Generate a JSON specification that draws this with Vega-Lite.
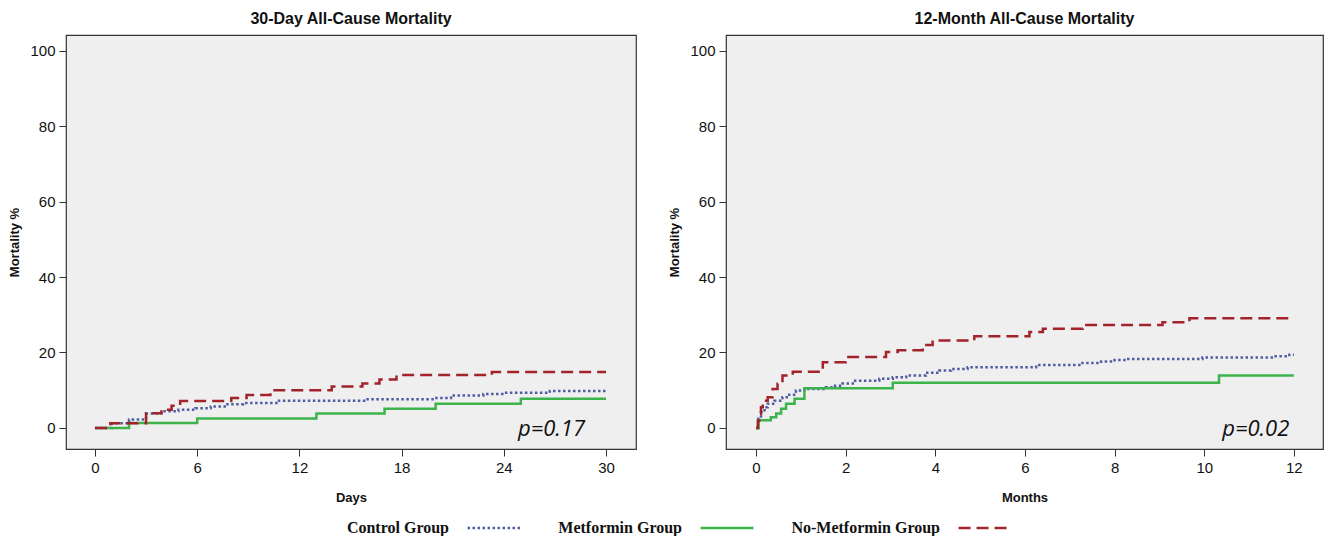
{
  "$schema": "https://vega.github.io/schema/vega-lite/v6.json",
  "background": "white",
  "padding": {"left": 8, "top": 10, "right": 3, "bottom": 0},
  "datasets": {
    "days": [
      {"group": "Control Group", "t": 0, "m": 0},
      {"group": "Control Group", "t": 1, "m": 1.2},
      {"group": "Control Group", "t": 2, "m": 2.2},
      {"group": "Control Group", "t": 3, "m": 3.8},
      {"group": "Control Group", "t": 3.9, "m": 4.4},
      {"group": "Control Group", "t": 4.9, "m": 4.8},
      {"group": "Control Group", "t": 5.9, "m": 5.2},
      {"group": "Control Group", "t": 6.8, "m": 5.7},
      {"group": "Control Group", "t": 7.7, "m": 6.3},
      {"group": "Control Group", "t": 8.7, "m": 6.6},
      {"group": "Control Group", "t": 10.8, "m": 7.2},
      {"group": "Control Group", "t": 16, "m": 7.6},
      {"group": "Control Group", "t": 19.9, "m": 7.9},
      {"group": "Control Group", "t": 20.9, "m": 8.6},
      {"group": "Control Group", "t": 22.8, "m": 9.0},
      {"group": "Control Group", "t": 24, "m": 9.3},
      {"group": "Control Group", "t": 26.7, "m": 9.8},
      {"group": "Control Group", "t": 30, "m": 9.8},
      {"group": "Metformin Group", "t": 0, "m": 0},
      {"group": "Metformin Group", "t": 2, "m": 1.3},
      {"group": "Metformin Group", "t": 6, "m": 2.5},
      {"group": "Metformin Group", "t": 13, "m": 3.8},
      {"group": "Metformin Group", "t": 17, "m": 5.1},
      {"group": "Metformin Group", "t": 20, "m": 6.4},
      {"group": "Metformin Group", "t": 25, "m": 7.7},
      {"group": "Metformin Group", "t": 30, "m": 7.7},
      {"group": "No-Metformin Group", "t": 0, "m": 0},
      {"group": "No-Metformin Group", "t": 0.9, "m": 1.2},
      {"group": "No-Metformin Group", "t": 3, "m": 3.9},
      {"group": "No-Metformin Group", "t": 3.9, "m": 4.8},
      {"group": "No-Metformin Group", "t": 4.5, "m": 5.9},
      {"group": "No-Metformin Group", "t": 5, "m": 7.1},
      {"group": "No-Metformin Group", "t": 8, "m": 7.9},
      {"group": "No-Metformin Group", "t": 8.9, "m": 8.7},
      {"group": "No-Metformin Group", "t": 10.3, "m": 10.0},
      {"group": "No-Metformin Group", "t": 13.9, "m": 11.0},
      {"group": "No-Metformin Group", "t": 15.7, "m": 11.8},
      {"group": "No-Metformin Group", "t": 16.7, "m": 12.8},
      {"group": "No-Metformin Group", "t": 17.7, "m": 14.0},
      {"group": "No-Metformin Group", "t": 23.3, "m": 14.8},
      {"group": "No-Metformin Group", "t": 30, "m": 14.8}
    ],
    "months": [
      {"group": "Control Group", "t": 0, "m": 0},
      {"group": "Control Group", "t": 0.05, "m": 2.4},
      {"group": "Control Group", "t": 0.11, "m": 4.2},
      {"group": "Control Group", "t": 0.19, "m": 5.5},
      {"group": "Control Group", "t": 0.26, "m": 6.4},
      {"group": "Control Group", "t": 0.41, "m": 7.2},
      {"group": "Control Group", "t": 0.59, "m": 8.1},
      {"group": "Control Group", "t": 0.74, "m": 8.8},
      {"group": "Control Group", "t": 0.89, "m": 9.9},
      {"group": "Control Group", "t": 1.08, "m": 10.3},
      {"group": "Control Group", "t": 1.56, "m": 10.8},
      {"group": "Control Group", "t": 1.71, "m": 11.2},
      {"group": "Control Group", "t": 1.93, "m": 11.8},
      {"group": "Control Group", "t": 2.16, "m": 12.5},
      {"group": "Control Group", "t": 2.75, "m": 13.0},
      {"group": "Control Group", "t": 3.05, "m": 13.4},
      {"group": "Control Group", "t": 3.35, "m": 13.9},
      {"group": "Control Group", "t": 3.79, "m": 14.6},
      {"group": "Control Group", "t": 4.09, "m": 15.2},
      {"group": "Control Group", "t": 4.35, "m": 15.6},
      {"group": "Control Group", "t": 4.72, "m": 16.1},
      {"group": "Control Group", "t": 6.25, "m": 16.7},
      {"group": "Control Group", "t": 7.25, "m": 17.2},
      {"group": "Control Group", "t": 7.7, "m": 17.6},
      {"group": "Control Group", "t": 8.0, "m": 18.0},
      {"group": "Control Group", "t": 8.25, "m": 18.3},
      {"group": "Control Group", "t": 9.96, "m": 18.7},
      {"group": "Control Group", "t": 11.56, "m": 19.0},
      {"group": "Control Group", "t": 11.9, "m": 19.4},
      {"group": "Control Group", "t": 12, "m": 19.4},
      {"group": "Metformin Group", "t": 0, "m": 0},
      {"group": "Metformin Group", "t": 0.06, "m": 2.0},
      {"group": "Metformin Group", "t": 0.33, "m": 2.8},
      {"group": "Metformin Group", "t": 0.45, "m": 3.8},
      {"group": "Metformin Group", "t": 0.56, "m": 5.1},
      {"group": "Metformin Group", "t": 0.67, "m": 6.4},
      {"group": "Metformin Group", "t": 0.86, "m": 7.7},
      {"group": "Metformin Group", "t": 1.08, "m": 10.5},
      {"group": "Metformin Group", "t": 3.05, "m": 12.0},
      {"group": "Metformin Group", "t": 10.33, "m": 13.9},
      {"group": "Metformin Group", "t": 12, "m": 13.9},
      {"group": "No-Metformin Group", "t": 0, "m": 0},
      {"group": "No-Metformin Group", "t": 0.04, "m": 1.9},
      {"group": "No-Metformin Group", "t": 0.07, "m": 3.7},
      {"group": "No-Metformin Group", "t": 0.11, "m": 5.5},
      {"group": "No-Metformin Group", "t": 0.15, "m": 7.2},
      {"group": "No-Metformin Group", "t": 0.26, "m": 8.1},
      {"group": "No-Metformin Group", "t": 0.37, "m": 10.3},
      {"group": "No-Metformin Group", "t": 0.48, "m": 11.7},
      {"group": "No-Metformin Group", "t": 0.59, "m": 13.9},
      {"group": "No-Metformin Group", "t": 0.82, "m": 14.9},
      {"group": "No-Metformin Group", "t": 1.49, "m": 17.4},
      {"group": "No-Metformin Group", "t": 2.0, "m": 18.8},
      {"group": "No-Metformin Group", "t": 2.9, "m": 20.1},
      {"group": "No-Metformin Group", "t": 3.16, "m": 20.6},
      {"group": "No-Metformin Group", "t": 3.72, "m": 22.0},
      {"group": "No-Metformin Group", "t": 3.94, "m": 23.2},
      {"group": "No-Metformin Group", "t": 4.87, "m": 24.3},
      {"group": "No-Metformin Group", "t": 6.1, "m": 25.4},
      {"group": "No-Metformin Group", "t": 6.4, "m": 26.3},
      {"group": "No-Metformin Group", "t": 7.29, "m": 27.3},
      {"group": "No-Metformin Group", "t": 9.07, "m": 28.0},
      {"group": "No-Metformin Group", "t": 9.67, "m": 29.1},
      {"group": "No-Metformin Group", "t": 12, "m": 29.1}
    ],
    "pdays": [{"t": 26.8, "m": -0.3, "label": "p=0.17"}],
    "pmonths": [{"t": 11.15, "m": -0.3, "label": "p=0.02"}]
  },
  "spacing": 31,
  "hconcat": [
    {
      "title": "30-Day All-Cause Mortality",
      "width": 570,
      "height": 414,
      "layer": [
        {
          "data": {"name": "days"},
          "mark": {"type": "line", "interpolate": "step-after", "strokeWidth": 2.5, "strokeCap": "butt"},
          "encoding": {
            "x": {"field": "t", "type": "quantitative", "scale": {"domain": [-1.7, 31.76], "nice": false, "zero": false}, "axis": {"values": [0, 6, 12, 18, 24, 30], "title": "Days"}},
            "y": {"field": "m", "type": "quantitative", "scale": {"domain": [-5.6, 104.2], "nice": false, "zero": false}, "axis": {"values": [0, 20, 40, 60, 80, 100], "title": "Mortality %"}},
            "color": {"field": "group", "type": "nominal", "scale": {"domain": ["Control Group", "Metformin Group", "No-Metformin Group"], "range": ["#4f5da3", "#3cb44b", "#a3232b"]}, "legend": {"title": null}},
            "strokeDash": {"field": "group", "type": "nominal", "scale": {"domain": ["Control Group", "Metformin Group", "No-Metformin Group"], "range": [[2.5, 2.5], [1, 0], [12, 6]]}, "legend": {"title": null}}
          }
        },
        {
          "data": {"name": "pdays"},
          "mark": {"type": "text", "font": "Open Sans", "fontStyle": "italic", "fontSize": 22, "color": "#111"},
          "encoding": {
            "x": {"field": "t", "type": "quantitative"},
            "y": {"field": "m", "type": "quantitative"},
            "text": {"field": "label"}
          }
        }
      ]
    },
    {
      "title": "12-Month All-Cause Mortality",
      "width": 597,
      "height": 414,
      "layer": [
        {
          "data": {"name": "months"},
          "mark": {"type": "line", "interpolate": "step-after", "strokeWidth": 2.5, "strokeCap": "butt"},
          "encoding": {
            "x": {"field": "t", "type": "quantitative", "scale": {"domain": [-0.67, 12.65], "nice": false, "zero": false}, "axis": {"values": [0, 2, 4, 6, 8, 10, 12], "title": "Months"}},
            "y": {"field": "m", "type": "quantitative", "scale": {"domain": [-5.6, 104.2], "nice": false, "zero": false}, "axis": {"values": [0, 20, 40, 60, 80, 100], "title": "Mortality %"}},
            "color": {"field": "group", "type": "nominal", "scale": {"domain": ["Control Group", "Metformin Group", "No-Metformin Group"], "range": ["#4f5da3", "#3cb44b", "#a3232b"]}, "legend": {"title": null}},
            "strokeDash": {"field": "group", "type": "nominal", "scale": {"domain": ["Control Group", "Metformin Group", "No-Metformin Group"], "range": [[2.5, 2.5], [1, 0], [12, 6]]}, "legend": {"title": null}}
          }
        },
        {
          "data": {"name": "pmonths"},
          "mark": {"type": "text", "font": "Open Sans", "fontStyle": "italic", "fontSize": 22, "color": "#111"},
          "encoding": {
            "x": {"field": "t", "type": "quantitative"},
            "y": {"field": "m", "type": "quantitative"},
            "text": {"field": "label"}
          }
        }
      ]
    }
  ],
  "resolve": {"scale": {"color": "shared", "strokeDash": "shared"}},
  "config": {
    "view": {"fill": "#efefef", "stroke": "#333333", "strokeWidth": 1.2},
    "axis": {
      "labelFont": "Liberation Sans", "labelFontSize": 15, "labelColor": "#111111",
      "titleFont": "Liberation Sans", "titleFontSize": 13, "titleFontWeight": "bold", "titleColor": "#111111",
      "tickColor": "#333333", "tickSize": 7, "domain": false, "grid": false, "labelPadding": 4
    },
    "axisX": {"titlePadding": 16},
    "axisY": {"titlePadding": 8},
    "title": {"font": "Liberation Sans", "fontSize": 16, "fontWeight": "bold", "color": "#111111", "offset": 8},
    "legend": {
      "orient": "none", "legendX": 400, "legendY": 465, "direction": "horizontal",
      "labelFont": "Liberation Serif", "labelFontSize": 16, "labelFontWeight": "bold", "labelColor": "#111111",
      "symbolType": "stroke", "symbolSize": 2800, "symbolStrokeWidth": 2.5,
      "labelAlign": "right", "labelOffset": -73, "columnPadding": 32, "padding": 0
    }
  }
}
